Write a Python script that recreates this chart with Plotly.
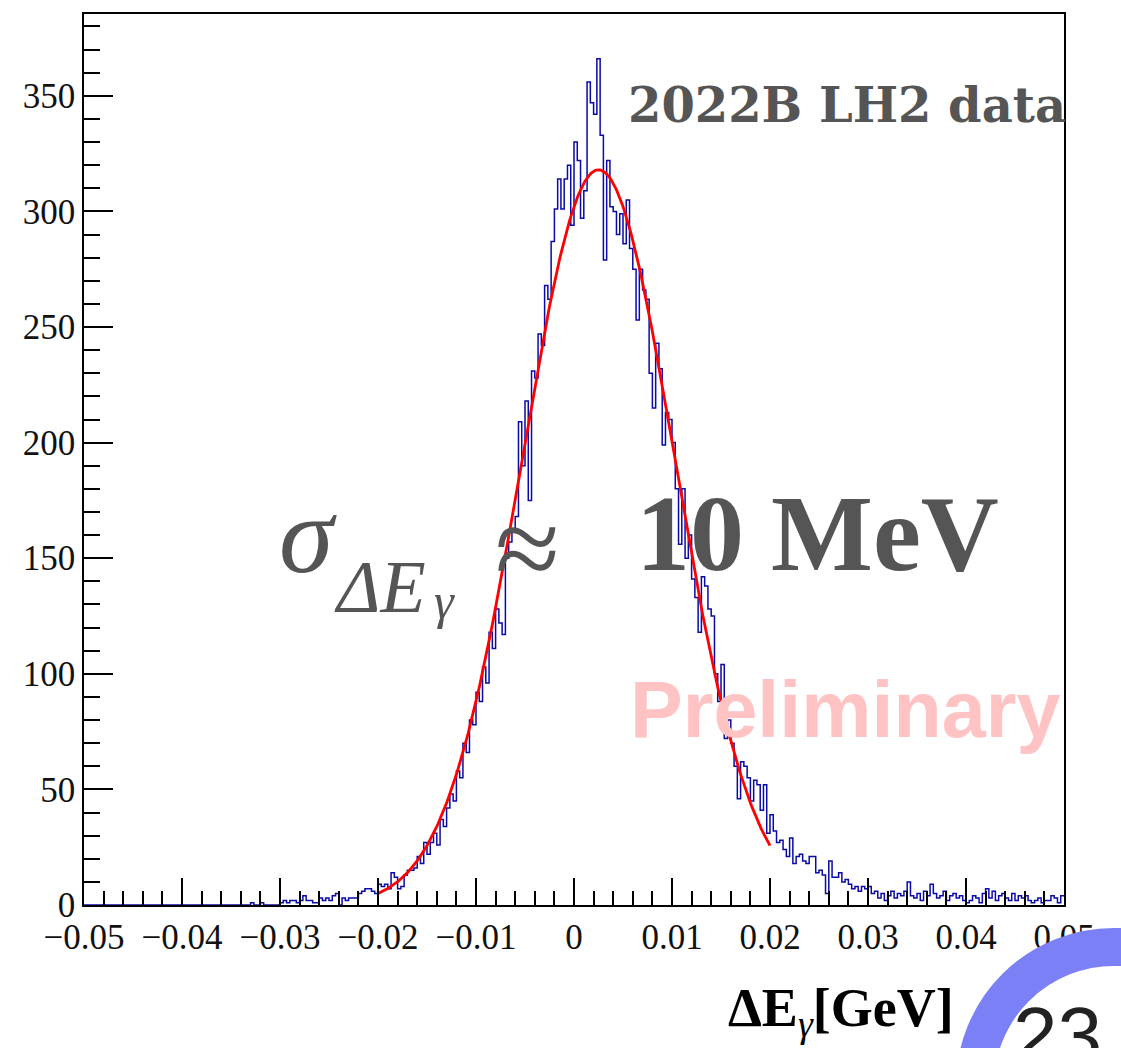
import numpy as np
import plotly.graph_objects as go

# ---- histogram: photon energy difference, 300 bins on [-0.05, 0.05] GeV ----
x_min, x_max, n_bins = -0.05, 0.05, 300

counts = [
    0, 0, 0, 0, 0, 0, 0, 0, 0, 0,
    0, 0, 0, 0, 0, 0, 0, 0, 0, 0,
    0, 0, 0, 0, 0, 0, 0, 0, 0, 0,
    0, 0, 0, 0, 0, 0, 0, 0, 0, 0,
    0, 0, 0, 0, 0, 0, 0, 0, 0, 0,
    0, 1, 0, 0, 1, 0, 0, 0, 0, 0,
    1, 2, 1, 2, 2, 1, 2, 4, 2, 2,
    1, 1, 3, 2, 3, 2, 4, 5, 0, 3,
    2, 3, 3, 3, 5, 6, 7, 7, 6, 5,
    9, 8, 9, 7, 14, 12, 7, 8, 13, 15,
    15, 16, 21, 18, 27, 22, 27, 31, 26, 37,
    34, 42, 48, 45, 58, 55, 70, 66, 80, 78,
    92, 88, 103, 96, 118, 111, 128, 122, 117, 150,
    157, 162, 168, 209, 190, 218, 175, 231, 228, 247,
    242, 268, 262, 287, 301, 314, 301, 314, 320, 294,
    330, 322, 297, 309, 356, 347, 342, 366, 333, 279,
    322, 302, 300, 290, 299, 286, 305, 284, 275, 253,
    275, 266, 262, 230, 215, 243, 232, 199, 213, 210,
    200, 180, 156, 180, 150, 160, 141, 133, 118, 142,
    138, 128, 125, 100, 88, 104, 72, 80, 70, 60,
    46, 62, 60, 55, 45, 54, 52, 41, 52, 31,
    39, 32, 27, 28, 24, 21, 29, 18, 21, 22,
    19, 18, 21, 21, 14, 15, 13, 5, 19, 12,
    12, 14, 10, 11, 9, 7, 8, 6, 8, 7,
    8, 5, 6, 3, 5, 2, 4, 6, 3, 5,
    4, 6, 10, 4, 3, 5, 2, 6, 4, 9,
    5, 3, 4, 6, 2, 4, 5, 3, 4, 2,
    1, 2, 4, 3, 1, 5, 7, 3, 6, 2,
    4, 5, 3, 2, 5, 2, 4, 3, 4, 2,
    1, 2, 3, 1, 2, 2, 4, 3, 1, 4,
]

# ---- Gaussian fit result ----
fit_amp = 318.0
fit_mean = 0.0025
fit_sigma = 0.0078
fit_lo, fit_hi = -0.02, 0.02

x_ticks = [-0.05, -0.04, -0.03, -0.02, -0.01, 0.0, 0.01, 0.02, 0.03, 0.04, 0.05]
x_tick_text = ["\u22120.05", "\u22120.04", "\u22120.03", "\u22120.02", "\u22120.01",
               "0", "0.01", "0.02", "0.03", "0.04", "0.05"]
y_ticks = [0, 50, 100, 150, 200, 250, 300, 350]
y_max = 385.4

# figure geometry (pixels)
W, H = 1121, 1048
ML, MR, MT, MB = 84, 57, 12, 143
PW, PH = W - ML - MR, H - MT - MB


def px(x):
    return (x - ML) / PW


def py(y):
    return (H - MB - y) / PH


edges = np.linspace(x_min, x_max, n_bins + 1)
step_y = list(counts) + [counts[-1]]

fx = np.linspace(fit_lo, fit_hi, 400)
fy = fit_amp * np.exp(-0.5 * ((fx - fit_mean) / fit_sigma) ** 2)

fig = go.Figure()
fig.add_trace(go.Scatter(
    x=edges, y=step_y, mode="lines", line_shape="hv",
    line=dict(color="#0a0aa6", width=1.5), hoverinfo="skip", showlegend=False,
))
fig.add_trace(go.Scatter(
    x=fx, y=fy, mode="lines",
    line=dict(color="#ff0000", width=2.8), hoverinfo="skip", showlegend=False,
))

serif = "Liberation Serif"
gray = "#555555"

annotations = [
    dict(text="<b>2022B LH2 data</b>", x=px(1068), y=py(103), xanchor="right", yanchor="middle",
         font=dict(family="DejaVu Serif", size=48, color=gray)),
    dict(text="<i>\u03c3</i>", x=px(277), y=py(534), xanchor="left", yanchor="middle",
         font=dict(family=serif, size=110, color=gray)),
    dict(text="<i>\u0394E</i>", x=px(332), y=py(586), xanchor="left", yanchor="middle",
         font=dict(family=serif, size=74, color=gray)),
    dict(text="<i>\u03b3</i>", x=px(432), y=py(600), xanchor="left", yanchor="middle",
         font=dict(family=serif, size=50, color=gray)),
    dict(text="\u2248", x=px(493), y=py(548), xanchor="left", yanchor="middle",
         font=dict(family=serif, size=118, color=gray)),
    dict(text="<b>10 MeV</b>", x=px(634), y=py(533), xanchor="left", yanchor="middle",
         font=dict(family=serif, size=108, color=gray)),
    dict(text="<b>Preliminary</b>", x=px(628), y=py(709), xanchor="left", yanchor="middle",
         font=dict(family="Liberation Sans", size=79, color="#ffc3c3")),
    dict(text="<b>\u0394E</b><sub><i>\u03b3</i></sub><b>[GeV]</b>", x=px(726), y=py(1012),
         xanchor="left", yanchor="middle",
         font=dict(family=serif, size=54, color="#000000")),
    dict(text="23", x=px(1011), y=py(1036), xanchor="left", yanchor="middle",
         font=dict(family="Liberation Sans", size=80, color="#222222")),
]
for a in annotations:
    a.update(xref="paper", yref="paper", showarrow=False)

# page badge ring
cx, cy, r = 1114, 1086, 139
fig.add_shape(type="circle", xref="paper", yref="paper",
              x0=px(cx - r), x1=px(cx + r), y0=py(cy + r), y1=py(cy - r),
              line=dict(color="#7b80f7", width=38), layer="above")

axis_common = dict(
    showline=True, linecolor="black", linewidth=1.5, mirror=True,
    ticks="inside", tickcolor="black", tickwidth=1.5,
    showgrid=False, zeroline=False,
    tickfont=dict(family=serif, size=35, color="#111111"),
)

fig.update_layout(
    width=W, height=H, autosize=False,
    margin=dict(l=ML, r=MR, t=MT, b=MB, pad=0),
    paper_bgcolor="white", plot_bgcolor="white",
    annotations=annotations,
    xaxis=dict(range=[x_min, x_max], tickvals=x_ticks, ticktext=x_tick_text, ticklen=27,
               minor=dict(dtick=0.002, tick0=0, ticklen=14, ticks="inside",
                          tickcolor="black", tickwidth=1.5, showgrid=False),
               **axis_common),
    yaxis=dict(range=[0, y_max], tickvals=y_ticks, ticklen=29,
               minor=dict(dtick=10, tick0=0, ticklen=16, ticks="inside",
                          tickcolor="black", tickwidth=1.5, showgrid=False),
               **axis_common),
)

fig.write_html("out.html")
